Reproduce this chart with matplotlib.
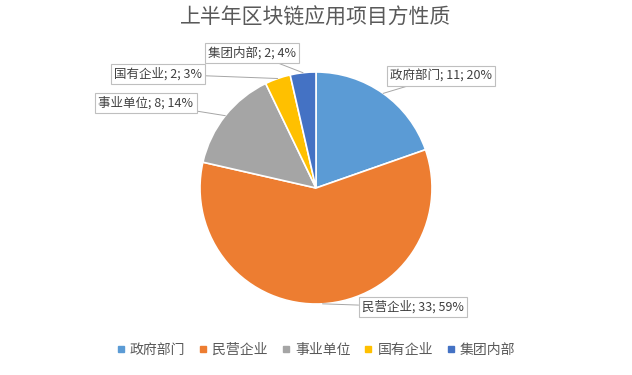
import numpy as np
import matplotlib.pyplot as plt

plt.rcParams['font.family'] = ['Noto Sans CJK SC', 'DejaVu Sans']

# data
categories = ['政府部门', '民营企业', '事业单位', '国有企业', '集团内部']
counts = [11, 33, 8, 2, 2]
percents = [20, 59, 14, 3, 4]   # as shown on the chart
colors = ['#5B9BD5', '#ED7D31', '#A5A5A5', '#FFC000', '#4472C4']
title = '上半年区块链应用项目方性质'

# label box positions (pixels, y from top)
label_pos = [(441, 76), (413, 307), (146, 103), (158, 74), (252, 53)]

W, H = 632, 375
fig = plt.figure(figsize=(W / 100, H / 100), dpi=100)
ax = fig.add_axes([0, 0, 1, 1])

cx, cy, r = 316, H - 188, 116
wedges, _ = ax.pie(counts, colors=colors, startangle=90, counterclock=False,
                   center=(cx, cy), radius=r, frame=True,
                   wedgeprops=dict(edgecolor='white', linewidth=1.2))
ax.set_xlim(0, W)
ax.set_ylim(0, H)
ax.set_aspect('equal')
ax.axis('off')

for w, cat, n, p, (lx, ly) in zip(wedges, categories, counts, percents, label_pos):
    ang = np.deg2rad((w.theta1 + w.theta2) / 2)
    ex = cx + r * np.cos(ang)
    ey = cy + r * np.sin(ang)
    ax.annotate(f'{cat}; {n}; {p}%', xy=(ex, ey), xytext=(lx, H - ly),
                ha='center', va='center', fontsize=9, color='#404040',
                bbox=dict(boxstyle='square,pad=0.25', fc='white', ec='#BFBFBF', lw=0.8),
                arrowprops=dict(arrowstyle='-', color='#A6A6A6', lw=0.7,
                                shrinkA=0, shrinkB=0))

fig.text(0.5, 1 - 18 / H, title, ha='center', va='center', fontsize=15, color='#595959')

handles = [plt.Line2D([], [], marker='s', ls='', color=c, markersize=4.5) for c in colors]
fig.legend(handles, categories, loc='center', bbox_to_anchor=(0.5, 1 - 350 / H),
           ncol=5, frameon=False, fontsize=10, handlelength=0.6, handletextpad=0.35,
           columnspacing=1.0, labelcolor='#595959')

fig.savefig('out.png', dpi=100)
